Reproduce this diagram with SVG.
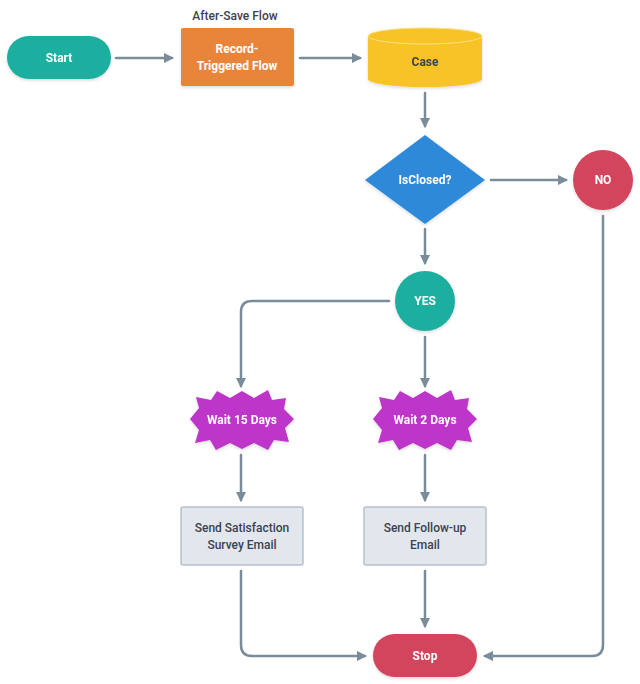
<svg xmlns="http://www.w3.org/2000/svg" width="640" height="684" viewBox="0 0 640 684">
<style>
.t{font-family:Roboto,"Liberation Sans",sans-serif;font-size:12px;font-weight:bold;text-anchor:middle;dominant-baseline:central}
.w{fill:#ffffff}
.d{fill:#3b4252}
.c{fill:none;stroke:#7a8b99;stroke-width:2.5;stroke-linecap:round;stroke-linejoin:round}
.box{fill:#e2e7ed;stroke:#b6c1cc;stroke-width:1.5}
</style>
<defs>
<marker id="ah" viewBox="0 0 10 10" refX="8" refY="5" markerWidth="4.2" markerHeight="4.2" orient="auto" markerUnits="strokeWidth">
<path d="M0,0 L10,5 L0,10 Z" fill="#7a8b99"/>
</marker>
<filter id="sh" x="-20%" y="-20%" width="140%" height="150%">
<feDropShadow dx="0" dy="1.5" stdDeviation="1.5" flood-color="#000" flood-opacity="0.15"/>
</filter>
</defs>
<rect width="640" height="684" fill="#ffffff"/>
<g id="connectors">
<path class="c" d="M116,58 H172" marker-end="url(#ah)"/>
<path class="c" d="M300,58 H360" marker-end="url(#ah)"/>
<path class="c" d="M425,93 V126" marker-end="url(#ah)"/>
<path class="c" d="M491,180 H566" marker-end="url(#ah)"/>
<path class="c" d="M425,229 V263" marker-end="url(#ah)"/>
<path class="c" d="M389,301 H252 Q241,301 241,312 V386" marker-end="url(#ah)"/>
<path class="c" d="M425,337 V386" marker-end="url(#ah)"/>
<path class="c" d="M241,455 V500" marker-end="url(#ah)"/>
<path class="c" d="M425,455 V500" marker-end="url(#ah)"/>
<path class="c" d="M241,571 V645 Q241,656 252,656 H365" marker-end="url(#ah)"/>
<path class="c" d="M425,571 V626" marker-end="url(#ah)"/>
<path class="c" d="M603,216 V645 Q603,656 592,656 H485" marker-end="url(#ah)"/>
</g>
<g id="start" filter="url(#sh)">
<rect x="7" y="36" width="104" height="43" rx="21.5" fill="#1bae9f"/>
<text class="t w" x="59" y="58">Start</text>
</g>
<g id="record-flow">
<text class="t d" x="235" y="16" style="font-weight:500">After-Save Flow</text>
<rect x="181" y="28" width="113" height="58" rx="2" fill="#e9843b" filter="url(#sh)"/>
<text class="t w" x="237" y="49">Record-</text>
<text class="t w" x="237" y="66">Triggered Flow</text>
</g>
<g id="case" filter="url(#sh)">
<path d="M368,36 V79 A57,8 0 0 0 482,79 V36 Z" fill="#f7c325"/>
<ellipse cx="425" cy="36" rx="57" ry="8" fill="#f7c325" stroke="#fbe08a" stroke-width="1"/>
<text class="t d" x="425" y="62">Case</text>
</g>
<g id="isclosed" filter="url(#sh)">
<path d="M425,135 L485,180 L425,224 L365,180 Z" fill="#2e8ad9" stroke-linejoin="round"/>
<text class="t w" x="425" y="180">IsClosed?</text>
</g>
<g id="no" filter="url(#sh)">
<circle cx="603" cy="180" r="30" fill="#d3455b"/>
<text class="t w" x="603" y="180">NO</text>
</g>
<g id="yes" filter="url(#sh)">
<circle cx="425" cy="301" r="30" fill="#1bae9f"/>
<text class="t w" x="425" y="301">YES</text>
</g>
<g id="wait15" filter="url(#sh)">
<polygon fill="#bd35c9" points="190,419 199,408 196,397 211,400 217,391 230,398 242,391 254,398 268,390 272,400 286,398 284,409 294,419 285,428 289,442 274,440 268,450 254,443 242,449 230,443 216,450 210,440 195,443 199,430"/>
<text class="t w" x="242" y="420">Wait 15 Days</text>
</g>
<g id="wait2" filter="url(#sh)">
<polygon fill="#bd35c9" points="373,419 382,408 379,397 394,400 400,391 413,398 425,391 437,398 451,390 455,400 469,398 467,409 477,419 468,428 472,442 457,440 451,450 437,443 425,449 413,443 399,450 393,440 378,443 382,430"/>
<text class="t w" x="425" y="420">Wait 2 Days</text>
</g>
<g id="survey">
<rect class="box" x="181" y="507" width="122" height="58" rx="2"/>
<text class="t d" x="242" y="528" style="font-weight:500">Send Satisfaction</text>
<text class="t d" x="242" y="545" style="font-weight:500">Survey Email</text>
</g>
<g id="followup">
<rect class="box" x="364" y="507" width="122" height="58" rx="2"/>
<text class="t d" x="425" y="528" style="font-weight:500">Send Follow-up</text>
<text class="t d" x="425" y="545" style="font-weight:500">Email</text>
</g>
<g id="stop" filter="url(#sh)">
<rect x="373" y="634" width="104" height="43" rx="21.5" fill="#d3455b"/>
<text class="t w" x="425" y="656">Stop</text>
</g>
</svg>
